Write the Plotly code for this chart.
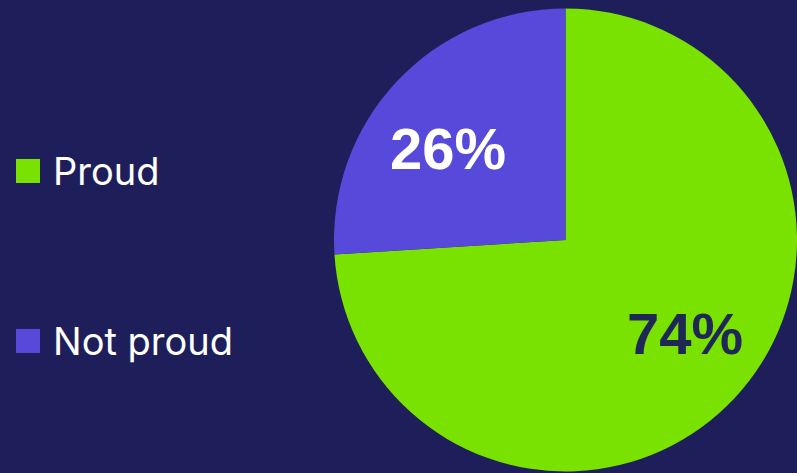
import plotly.graph_objects as go

labels = ["Proud", "Not proud"]
values = [74, 26]
colors = ["#7ae200", "#574adb"]
text_colors = ["#1f2757", "#ffffff"]
bg = "#1e1f5a"

fig = go.Figure()
fig.add_trace(go.Pie(
    labels=labels,
    values=values,
    sort=False,
    direction="clockwise",
    rotation=0,
    marker=dict(colors=colors, line=dict(width=0)),
    textinfo="none",
    domain=dict(x=[334/797, 1.0], y=[0.0, 466/473]),
    showlegend=False,
    hoverinfo="label+percent",
))

# percentage labels
label_pos = [(685, 333), (448, 148)]
total = sum(values)
for v, tc, (px, py) in zip(values, text_colors, label_pos):
    fig.add_annotation(xref="paper", yref="paper", x=px/797, y=1-py/473,
                       xanchor="center", yanchor="middle", showarrow=False,
                       text=f"{round(100*v/total)}%",
                       font=dict(color=tc, size=58, family="Liberation Sans, Arial", weight="bold"))

legend_y = [171, 341]
for lab, col, yy in zip(labels, colors, legend_y):
    fig.add_shape(type="rect", xref="paper", yref="paper",
                  x0=16/797, x1=40/797, y0=1-(yy+12)/473, y1=1-(yy-12)/473,
                  fillcolor=col, line=dict(width=0))
    fig.add_annotation(xref="paper", yref="paper", x=51/797, y=1-yy/473,
                       xanchor="left", yanchor="middle", showarrow=False,
                       text=lab, font=dict(color="white", size=38, family="Inter, Liberation Sans"))

fig.update_layout(
    width=797, height=473,
    margin=dict(l=0, r=0, t=0, b=0),
    paper_bgcolor=bg, plot_bgcolor=bg,
)
fig.write_html("out.html", config={"displayModeBar": False},
               post_script="document.body.style.margin='0';document.body.style.background='%s';" % bg)
